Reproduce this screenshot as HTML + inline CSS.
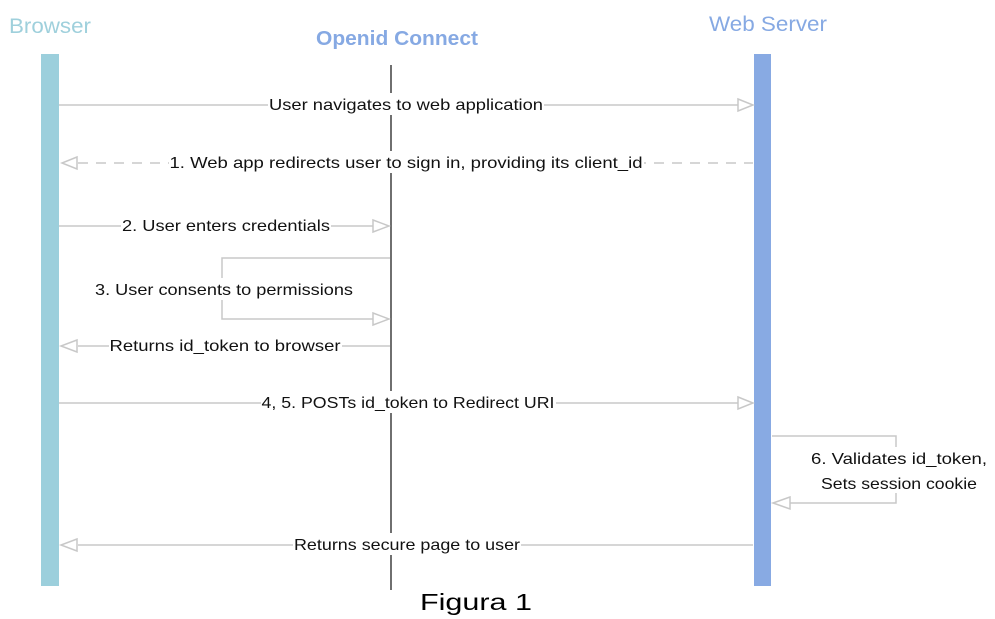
<!DOCTYPE html>
<html><head><meta charset="utf-8"><style>
html,body{margin:0;padding:0;background:#fff;}
svg{display:block;}
text{font-family:"Liberation Sans","DejaVu Sans",sans-serif;}
</style></head><body>
<svg width="995" height="619" viewBox="0 0 995 619" xmlns="http://www.w3.org/2000/svg">
<rect x="0" y="0" width="995" height="619" fill="#fff"/>
<text x="50" y="33" font-size="21" fill="#9fd0dc" text-anchor="middle" textLength="82" lengthAdjust="spacingAndGlyphs">Browser</text>
<text x="397" y="45" font-size="20" font-weight="bold" fill="#86a9e3" text-anchor="middle" textLength="162" lengthAdjust="spacingAndGlyphs">Openid Connect</text>
<text x="768" y="31" font-size="21" fill="#86a9e3" text-anchor="middle" textLength="118" lengthAdjust="spacingAndGlyphs">Web Server</text>
<line x1="391" y1="65" x2="391" y2="590" stroke="#222" stroke-width="1.3"/>
<rect x="41" y="54" width="18" height="532" fill="#9ccfdc"/>
<rect x="754" y="54" width="17" height="532" fill="#88aae3"/>
<g stroke="#c8c8c8" stroke-width="1.5" fill="#fff">
<line x1="59" y1="105" x2="738" y2="105"/>
<polygon points="738,99 753,105 738,111"/>
<line x1="78" y1="163" x2="753" y2="163" stroke-dasharray="10,8"/>
<polygon points="77,157 62,163 77,169"/>
<line x1="59" y1="226" x2="373" y2="226"/>
<polygon points="373,220 389,226 373,232"/>
<polyline points="390,258 222,258 222,319 373,319" fill="none"/>
<polygon points="373,313 389,319 373,325"/>
<line x1="78" y1="346" x2="390" y2="346"/>
<polygon points="77,340 61,346 77,352"/>
<line x1="59" y1="403" x2="738" y2="403"/>
<polygon points="738,397 753,403 738,409"/>
<polyline points="772,436 896,436 896,503 790,503" fill="none"/>
<polygon points="790,497 773,503 790,509"/>
<line x1="78" y1="545" x2="753" y2="545"/>
<polygon points="77,539 61,545 77,551"/>
</g>
<g font-size="16" fill="#111" text-anchor="middle">
<rect x="268" y="93" width="276" height="22" fill="#fff"/>
<text x="406" y="110" textLength="274" lengthAdjust="spacingAndGlyphs">User navigates to web application</text>
<rect x="169" y="151" width="475" height="22" fill="#fff"/>
<text x="406" y="168" textLength="473" lengthAdjust="spacingAndGlyphs">1. Web app redirects user to sign in, providing its client_id</text>
<rect x="121" y="214" width="210" height="22" fill="#fff"/>
<text x="226" y="231" textLength="208" lengthAdjust="spacingAndGlyphs">2. User enters credentials</text>
<rect x="94" y="278" width="260" height="22" fill="#fff"/>
<text x="224" y="295" textLength="258" lengthAdjust="spacingAndGlyphs">3. User consents to permissions</text>
<rect x="109" y="334" width="233" height="22" fill="#fff"/>
<text x="225" y="351" textLength="231" lengthAdjust="spacingAndGlyphs">Returns id_token to browser</text>
<rect x="261" y="391" width="295" height="22" fill="#fff"/>
<text x="408" y="408" textLength="293" lengthAdjust="spacingAndGlyphs">4, 5. POSTs id_token to Redirect URI</text>
<rect x="810" y="447" width="180" height="46" fill="#fff"/>
<text x="899" y="464" textLength="176" lengthAdjust="spacingAndGlyphs">6. Validates id_token,</text>
<text x="899" y="489" textLength="156" lengthAdjust="spacingAndGlyphs">Sets session cookie</text>
<rect x="293" y="533" width="228" height="22" fill="#fff"/>
<text x="407" y="550" textLength="226" lengthAdjust="spacingAndGlyphs">Returns secure page to user</text>
</g>
<text x="476" y="610" font-size="23" font-family="DejaVu Sans,sans-serif" fill="#000" text-anchor="middle" textLength="112" lengthAdjust="spacingAndGlyphs">Figura 1</text>
</svg>
</body></html>
